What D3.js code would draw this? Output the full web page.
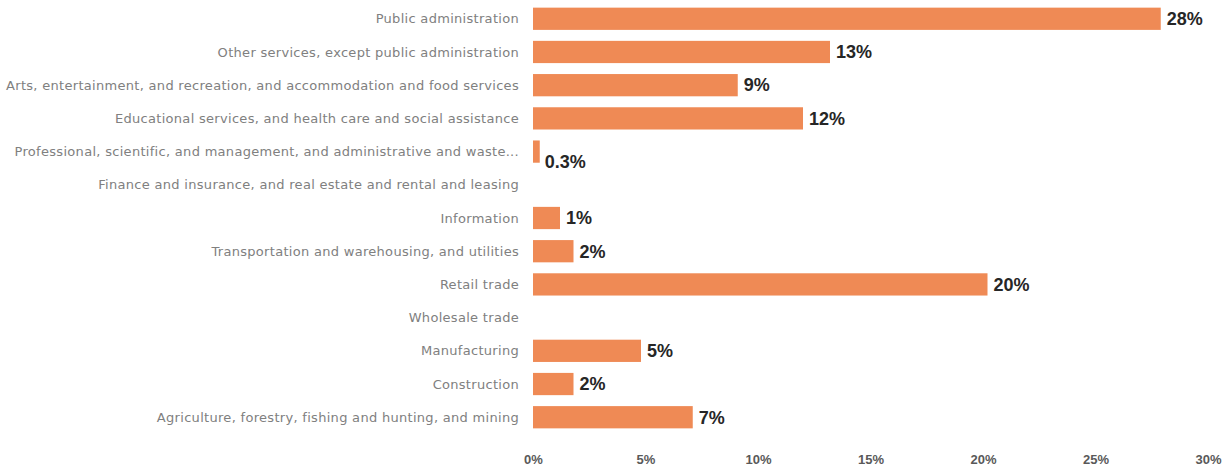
<!DOCTYPE html>
<html>
<head>
<meta charset="utf-8">
<script src="https://cdn.jsdelivr.net/npm/d3@7"></script>
<style>
  body { margin: 0; background: #fff; }
</style>
</head>
<body>
<div id="chart"></div>
<script>
// Data
const categories = [
  "Public administration",
  "Other services, except public administration",
  "Arts, entertainment, and recreation, and accommodation and food services",
  "Educational services, and health care and social assistance",
  "Professional, scientific, and management, and administrative and waste...",
  "Finance and insurance, and real estate and rental and leasing",
  "Information",
  "Transportation and warehousing, and utilities",
  "Retail trade",
  "Wholesale trade",
  "Manufacturing",
  "Construction",
  "Agriculture, forestry, fishing and hunting,  and mining"
];
const values = [27.9, 13.2, 9.1, 12.0, 0.3, 0, 1.2, 1.8, 20.2, 0, 4.8, 1.8, 7.1];
const valueLabels = ["28%", "13%", "9%", "12%", "0.3%", "", "1%", "2%", "20%", "", "5%", "2%", "7%"];
const tickValues = [0, 5, 10, 15, 20, 25, 30];

const width = 1230, height = 466;
const margin = { top: 2, right: 22, bottom: 32, left: 533 };

const svg = d3.select("#chart")
  .append("svg")
  .attr("width", width)
  .attr("height", height);

const x = d3.scaleLinear().domain([0, 30]).range([margin.left, width - margin.right]);
const y = d3.scaleBand()
  .domain(categories)
  .range([margin.top, height - margin.bottom])
  .paddingInner(0.33)
  .paddingOuter(0.17);

// Bars
svg.selectAll(".bar")
  .data(values)
  .enter().append("rect")
  .attr("class", "bar")
  .attr("x", x(0))
  .attr("y", (d, i) => y(categories[i]))
  .attr("width", d => x(d) - x(0))
  .attr("height", y.bandwidth())
  .attr("fill", "#ef8a55");

// Category labels
svg.selectAll(".cat")
  .data(categories)
  .enter().append("text")
  .attr("class", "cat")
  .attr("x", x(0) - 14)
  .attr("y", d => y(d) + y.bandwidth() / 2)
  .attr("dy", "0.35em")
  .attr("text-anchor", "end")
  .style("font-family", "DejaVu Sans, sans-serif")
  .style("font-size", "13px")
  .style("letter-spacing", "0.3px")
  .attr("fill", "#808080")
  .text(d => d);

// Value labels
svg.selectAll(".val")
  .data(values)
  .enter().append("text")
  .attr("class", "val")
  .attr("x", d => x(d) + (d < 1 ? 5 : 6))
  .attr("y", (d, i) => y(categories[i]) + y.bandwidth() / 2 + (d < 1 ? 10 : 0))
  .attr("dy", "0.35em")
  .attr("text-anchor", "start")
  .style("font-family", "Liberation Sans Narrow, Liberation Sans, sans-serif")
  .style("font-weight", "bold")
  .style("font-size", "18px")
  .attr("fill", "#262626")
  .text((d, i) => valueLabels[i]);

// X axis
const xAxis = svg.append("g")
  .attr("transform", "translate(0," + (height - margin.bottom + 18) + ")")
  .call(d3.axisBottom(x).tickValues(tickValues).tickFormat(d => d + "%").tickSize(0));
xAxis.select(".domain").remove();
xAxis.selectAll("text")
  .style("font-family", "Liberation Sans Narrow, Liberation Sans, sans-serif")
  .style("font-weight", "bold")
  .style("font-size", "13px")
  .attr("fill", "#595959");
</script>
</body>
</html>
